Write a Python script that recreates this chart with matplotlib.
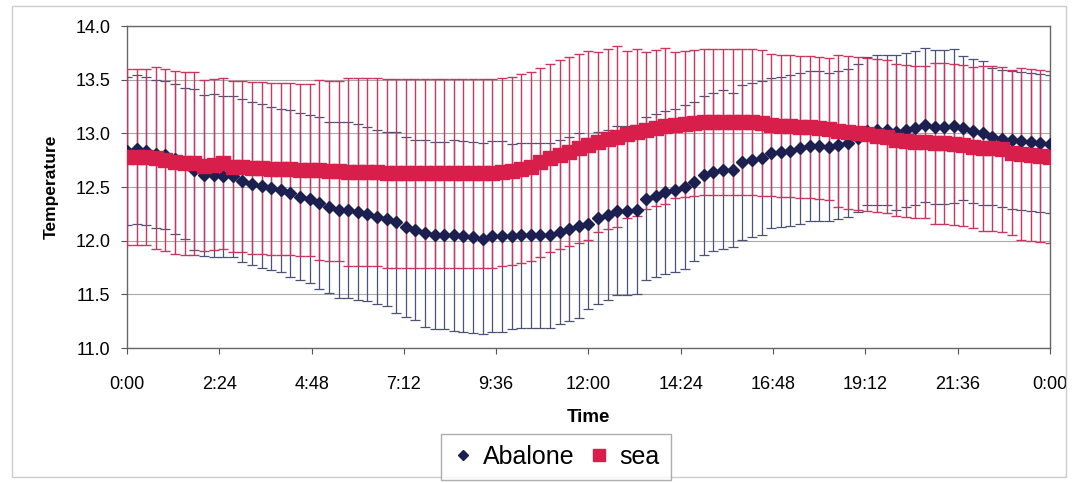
import numpy as np
import matplotlib.pyplot as plt
from matplotlib.patches import Rectangle

# 15-minute readings over one day (hours)
hours = np.arange(97) * 0.25

abalone = [
    12.84, 12.85, 12.84, 12.81, 12.80, 12.76, 12.72, 12.66, 12.61, 12.61, 12.60, 12.60,
    12.56, 12.53, 12.51, 12.49, 12.47, 12.44, 12.41, 12.39, 12.35, 12.31, 12.29, 12.29,
    12.27, 12.25, 12.22, 12.20, 12.17, 12.13, 12.10, 12.07, 12.05, 12.05, 12.05, 12.04,
    12.03, 12.02, 12.04, 12.04, 12.04, 12.05, 12.05, 12.05, 12.05, 12.08, 12.11, 12.14,
    12.16, 12.21, 12.24, 12.28, 12.28, 12.29, 12.39, 12.42, 12.45, 12.47, 12.50, 12.55,
    12.61, 12.64, 12.66, 12.66, 12.73, 12.75, 12.77, 12.82, 12.83, 12.84, 12.86, 12.88,
    12.88, 12.87, 12.89, 12.91, 12.96, 13.02, 13.03, 13.03, 13.01, 13.03, 13.05, 13.08,
    13.06, 13.06, 13.07, 13.05, 13.02, 13.00, 12.97, 12.95, 12.94, 12.93, 12.92, 12.91,
    12.90,
]
abalone_err = [
    0.69, 0.69, 0.69, 0.69, 0.69, 0.70, 0.70, 0.75, 0.75, 0.76, 0.75, 0.75,
    0.76, 0.76, 0.76, 0.76, 0.76, 0.78, 0.78, 0.78, 0.80, 0.80, 0.82, 0.82,
    0.82, 0.81, 0.81, 0.81, 0.84, 0.84, 0.84, 0.87, 0.87, 0.87, 0.89, 0.89,
    0.89, 0.89, 0.89, 0.89, 0.86, 0.86, 0.86, 0.86, 0.86, 0.86, 0.86, 0.86,
    0.80, 0.80, 0.79, 0.79, 0.79, 0.79, 0.76, 0.76, 0.76, 0.76, 0.76, 0.74,
    0.74, 0.74, 0.74, 0.72, 0.72, 0.72, 0.72, 0.70, 0.70, 0.70, 0.70, 0.70,
    0.70, 0.69, 0.69, 0.69, 0.69, 0.69, 0.70, 0.70, 0.72, 0.72, 0.72, 0.72,
    0.72, 0.72, 0.72, 0.67, 0.67, 0.67, 0.64, 0.64, 0.64, 0.64, 0.64, 0.64,
    0.64,
]
sea = [
    12.78, 12.78, 12.78, 12.77, 12.75, 12.73, 12.72, 12.72, 12.70, 12.71, 12.72, 12.69,
    12.69, 12.68, 12.68, 12.67, 12.67, 12.67, 12.66, 12.66, 12.66, 12.65, 12.65, 12.64,
    12.64, 12.64, 12.64, 12.63, 12.63, 12.63, 12.63, 12.63, 12.63, 12.63, 12.63, 12.63,
    12.63, 12.63, 12.63, 12.64, 12.65, 12.67, 12.69, 12.73, 12.77, 12.80, 12.83, 12.86,
    12.89, 12.92, 12.95, 12.97, 12.99, 13.01, 13.03, 13.05, 13.07, 13.08, 13.09, 13.10,
    13.11, 13.11, 13.11, 13.11, 13.11, 13.11, 13.10, 13.08, 13.07, 13.07, 13.06, 13.06,
    13.05, 13.04, 13.02, 13.01, 13.00, 12.99, 12.98, 12.97, 12.94, 12.93, 12.92, 12.92,
    12.91, 12.91, 12.90, 12.89, 12.87, 12.86, 12.86, 12.85, 12.82, 12.81, 12.80, 12.79,
    12.78,
]
sea_err = [
    0.82, 0.82, 0.82, 0.85, 0.85, 0.85, 0.85, 0.85, 0.80, 0.80, 0.80, 0.80,
    0.80, 0.80, 0.80, 0.80, 0.80, 0.80, 0.80, 0.80, 0.84, 0.84, 0.84, 0.88,
    0.88, 0.88, 0.88, 0.88, 0.88, 0.88, 0.88, 0.88, 0.88, 0.88, 0.88, 0.88,
    0.88, 0.88, 0.88, 0.88, 0.88, 0.88, 0.88, 0.88, 0.88, 0.88, 0.88, 0.88,
    0.88, 0.84, 0.84, 0.84, 0.78, 0.78, 0.73, 0.73, 0.73, 0.68, 0.68, 0.68,
    0.68, 0.68, 0.68, 0.68, 0.68, 0.68, 0.68, 0.66, 0.66, 0.66, 0.66, 0.66,
    0.66, 0.66, 0.71, 0.71, 0.71, 0.71, 0.71, 0.71, 0.71, 0.71, 0.71, 0.71,
    0.75, 0.75, 0.75, 0.75, 0.75, 0.77, 0.77, 0.77, 0.77, 0.80, 0.80, 0.80,
    0.80,
]

tick_hours = [0, 2.4, 4.8, 7.2, 9.6, 12.0, 14.4, 16.8, 19.2, 21.6, 24.0]
tick_labels = ['0:00', '2:24', '4:48', '7:12', '9:36', '12:00', '14:24',
               '16:48', '19:12', '21:36', '0:00']
y_ticks = [11.0, 11.5, 12.0, 12.5, 13.0, 13.5, 14.0]

plt.rcParams['font.family'] = ['Liberation Sans', 'DejaVu Sans']

fig = plt.figure(figsize=(10.78, 4.83), dpi=100)
ax = fig.add_axes([0.1178, 0.2795, 0.8562, 0.6665])

navy = '#1c1f4f'
navy_bar = '#4a5278'
red = '#d81e4b'
red_bar = '#cc3560'

# error bars first, sea bars over abalone bars
ax.errorbar(hours, abalone, yerr=abalone_err, fmt='none', ecolor=navy_bar,
            elinewidth=0.9, capsize=3.6, capthick=0.9, zorder=2)
ax.errorbar(hours, sea, yerr=sea_err, fmt='none', ecolor=red_bar,
            elinewidth=1.0, capsize=3.6, capthick=1.0, zorder=3)
ax.plot(hours, abalone, linestyle='none', marker='D', markersize=6.5,
        color=navy, label='Abalone', zorder=4)
ax.plot(hours, sea, linestyle='none', marker='s', markersize=9.5,
        color=red, label='sea', zorder=5)

ax.set_xlim(0, 24)
ax.set_ylim(11.0, 14.0)
ax.set_xticks(tick_hours)
ax.set_xticklabels(tick_labels)
ax.set_yticks(y_ticks)
ax.set_yticklabels(['%.1f' % v for v in y_ticks])
ax.tick_params(labelsize=13, length=4, color='#555555')
ax.tick_params(axis='x', pad=16)
ax.tick_params(axis='y', pad=8)
ax.yaxis.grid(True, color='#a8a8a8', linewidth=0.8)
ax.set_axisbelow(True)
for s in ax.spines.values():
    s.set_color('#666666')
    s.set_linewidth(1.0)

ax.set_xlabel('Time', fontsize=13.5, fontweight='bold', labelpad=12)
ax.set_ylabel('Temperature', fontsize=12.5, fontweight='bold', labelpad=12)

fig.legend(loc='center', bbox_to_anchor=(556 / 1078, 1 - 457 / 483), ncol=2,
           fontsize=18, frameon=True, fancybox=False, edgecolor='#999999',
           handlelength=0.8, handletextpad=0.4, columnspacing=0.6,
           borderpad=0.45, markerscale=0.85)

# faint outer chart border
fig.patches.append(Rectangle((0.011, 0.012), 0.978, 0.975, transform=fig.transFigure,
                             fill=False, edgecolor='#cccccc', linewidth=1.0))

fig.savefig('out.png', dpi=100)
